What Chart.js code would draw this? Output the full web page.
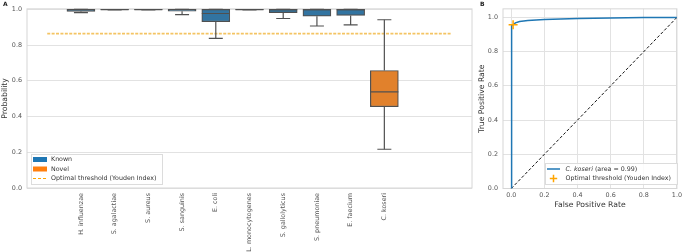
<!DOCTYPE html>
<html>
<head>
<meta charset="utf-8">
<script src="https://cdn.jsdelivr.net/npm/chart.js@4.4.1/dist/chart.umd.min.js"></script>
<style>
  html, body { margin: 0; padding: 0; background: #fff; }
  #wrap { position: relative; width: 685px; height: 252px; overflow: hidden; }
  .panel { position: absolute; top: 0; height: 252px; }
  #pa { left: 0; width: 480px; }
  #pb { left: 440px; width: 245px; }
</style>
</head>
<body>
<div id="wrap">
  <div class="panel" id="pa"><canvas id="chartA"></canvas></div>
  <div class="panel" id="pb"><canvas id="chartB"></canvas></div>
</div>
<script>
// panel A: per-species probability distributions
const species = ["H. influenzae", "S. agalactiae", "S. aureus", "S. sanguinis", "E. coli",
  "L. monocytogenes", "S. gallolyticus", "S. pneumoniae", "E. faecium", "C. koseri"]
const groups = ["Known", "Known", "Known", "Known", "Known", "Known", "Known", "Known", "Known", "Novel"]
const whiskerLo = [0.982, 0.998, 0.998, 0.971, 0.838, 0.998, 0.949, 0.907, 0.913, 0.217]
const q1 = [0.988, 0.998, 0.998, 0.990, 0.931, 0.998, 0.982, 0.962, 0.966, 0.455]
const median = [0.997, 0.9985, 0.9985, 0.998, 0.977, 0.9985, 0.999, 0.998, 0.998, 0.538]
const q3 = [1.0, 0.999, 0.999, 1.0, 1.0, 0.999, 1.0, 1.0, 1.0, 0.658]
const whiskerHi = [1.0, 0.999, 0.999, 1.0, 1.0, 0.999, 1.0, 1.0, 1.0, 0.942]
const threshold = 0.864
const thresholdSpan = [-1, 11]
const probTicks = [0, 0.2, 0.4, 0.6, 0.8, 1.0]

// panel B: ROC curve for C. koseri
const fpr = [0, 0, 0.004, 0.011, 0.025, 0.05, 0.1, 0.2, 0.4, 0.6, 0.8, 1.0]
const tpr = [0, 0.94, 0.952, 0.958, 0.968, 0.976, 0.982, 0.988, 0.994, 0.997, 0.999, 1.0]
const youden = { fpr: 0.011, tpr: 0.957 }
const rateTicks = [0, 0.2, 0.4, 0.6, 0.8, 1.0]

const FONT = "'DejaVu Sans', sans-serif"
Chart.defaults.font.family = FONT
Chart.defaults.color = "#555"
Chart.defaults.animation = false

const KNOWN = "#3274a1"
const NOVEL = "#e1812c"
const EDGE = "#505050"
const GRID = "#e2e2e2"

const frame = {
  id: "frame",
  beforeDatasetsDraw(chart) {
    const { ctx, chartArea: a } = chart
    ctx.save()
    ctx.strokeStyle = "#d6d6d6"
    ctx.lineWidth = 1
    ctx.strokeRect(a.left, a.top, a.right - a.left, a.bottom - a.top)
    ctx.restore()
  }
}

const whiskers = {
  id: "whiskers",
  afterDatasetsDraw(chart) {
    const { ctx, chartArea: a, scales: { x, y } } = chart
    ctx.save()
    ctx.beginPath()
    ctx.rect(a.left, a.top - 1, a.right - a.left, a.bottom - a.top + 1)
    ctx.clip()
    ctx.strokeStyle = EDGE
    ctx.lineWidth = 1.2
    species.forEach((s, i) => {
      const px = x.getPixelForValue(i)
      const seg = (x0, y0, x1, y1) => { ctx.beginPath(); ctx.moveTo(x0, y0); ctx.lineTo(x1, y1); ctx.stroke() }
      seg(px, y.getPixelForValue(q3[i]), px, y.getPixelForValue(whiskerHi[i]))
      seg(px, y.getPixelForValue(q1[i]), px, y.getPixelForValue(whiskerLo[i]))
      seg(px - 7, y.getPixelForValue(whiskerHi[i]), px + 7, y.getPixelForValue(whiskerHi[i]))
      seg(px - 7, y.getPixelForValue(whiskerLo[i]), px + 7, y.getPixelForValue(whiskerLo[i]))
      seg(px - 14, y.getPixelForValue(median[i]), px + 14, y.getPixelForValue(median[i]))
    })
    ctx.restore()
  }
}

const legendA = {
  id: "legendA",
  afterDraw(chart) {
    const { ctx, chartArea: a } = chart
    const x0 = a.left + 4, y0 = 154
    ctx.save()
    ctx.fillStyle = "rgba(255,255,255,0.85)"
    ctx.strokeStyle = "#dcdcdc"
    ctx.lineWidth = 1
    ctx.fillRect(x0, y0, 131, 30)
    ctx.strokeRect(x0 + 0.5, y0 + 0.5, 131, 30)
    ctx.font = "6.3px " + FONT
    ctx.textBaseline = "middle"
    ctx.fillStyle = "#1f77b4"; ctx.fillRect(x0 + 2, y0 + 3, 14, 5)
    ctx.fillStyle = "#ff7f0e"; ctx.fillRect(x0 + 2, y0 + 12.5, 14, 5)
    ctx.strokeStyle = "#ffa500"; ctx.setLineDash([3, 2]); ctx.lineWidth = 1
    ctx.beginPath(); ctx.moveTo(x0 + 2, y0 + 24.5); ctx.lineTo(x0 + 16, y0 + 24.5); ctx.stroke()
    ctx.fillStyle = "#333"
    ctx.fillText("Known", x0 + 20, y0 + 5.5)
    ctx.fillText("Novel", x0 + 20, y0 + 15)
    ctx.fillText("Optimal threshold (Youden Index)", x0 + 20, y0 + 24.5)
    ctx.font = "bold 6px " + FONT
    ctx.fillStyle = "#222"
    ctx.fillText("A", 3, 4)
    ctx.restore()
  }
}

new Chart(document.getElementById("chartA"), {
  type: "bar",
  data: {
    datasets: [
      {
        type: "line",
        data: thresholdSpan.map(v => ({ x: v, y: threshold })),
        borderColor: "#f4c463",
        borderWidth: 1.6,
        borderDash: [3, 1.4],
        pointRadius: 0,
        order: 2
      },
      {
        data: species.map((s, i) => ({ x: i, y: [q1[i], q3[i]] })),
        backgroundColor: groups.map(g => g === "Novel" ? NOVEL : KNOWN),
        borderColor: EDGE,
        borderWidth: 1.2,
        borderSkipped: false,
        barThickness: 28,
        grouped: false,
        order: 1
      }
    ]
  },
  options: {
    responsive: true,
    maintainAspectRatio: false,
    layout: { padding: { left: 0, top: 3, right: 8, bottom: 0 } },
    plugins: { legend: { display: false }, tooltip: { enabled: false } },
    scales: {
      x: {
        type: "linear",
        min: -1.6,
        max: 11.6,
        offset: false,
        grid: { display: false, drawTicks: false },
        border: { display: false },
        afterBuildTicks: scale => { scale.ticks = species.map((s, i) => ({ value: i })) },
        afterFit: scale => { scale.height = 64 },
        ticks: {
          autoSkip: false,
          minRotation: 90,
          maxRotation: 90,
          padding: 5,
          font: { size: 6.4 },
          callback: v => species[v]
        }
      },
      y: {
        min: 0,
        max: 1.003,
        grid: { color: GRID, drawTicks: false },
        border: { display: false },
        afterBuildTicks: scale => { scale.ticks = probTicks.map(v => ({ value: v })) },
        afterFit: scale => { scale.width = 27 },
        title: { display: true, text: "Probability", font: { size: 7.7 }, color: "#333", padding: 0 },
        ticks: { padding: 5, font: { size: 6.4 }, callback: v => v.toFixed(1) }
      }
    }
  },
  plugins: [frame, whiskers, legendA]
})

const legendB = {
  id: "legendB",
  afterDraw(chart) {
    const { ctx } = chart
    const x0 = 105, y0 = 163
    ctx.save()
    ctx.fillStyle = "rgba(255,255,255,0.85)"
    ctx.strokeStyle = "#dcdcdc"
    ctx.lineWidth = 1
    ctx.fillRect(x0, y0, 132, 21)
    ctx.strokeRect(x0 + 0.5, y0 + 0.5, 132, 21)
    ctx.strokeStyle = "#1f77b4"; ctx.lineWidth = 1.5
    ctx.beginPath(); ctx.moveTo(x0 + 2, y0 + 6); ctx.lineTo(x0 + 15, y0 + 6); ctx.stroke()
    ctx.strokeStyle = "#ffa500"; ctx.lineWidth = 1.5
    ctx.beginPath(); ctx.moveTo(x0 + 8.5, y0 + 11.8); ctx.lineTo(x0 + 8.5, y0 + 19.2); ctx.moveTo(x0 + 4.8, y0 + 15.5); ctx.lineTo(x0 + 12.2, y0 + 15.5); ctx.stroke()
    ctx.textBaseline = "middle"
    ctx.fillStyle = "#333"
    ctx.font = "italic 6.3px " + FONT
    ctx.fillText("C. koseri", x0 + 20.5, y0 + 6)
    const w = ctx.measureText("C. koseri").width
    ctx.font = "6.3px " + FONT
    ctx.fillText(" (area = 0.99)", x0 + 20.5 + w, y0 + 6)
    ctx.fillText("Optimal threshold (Youden Index)", x0 + 20.5, y0 + 15.7)
    ctx.font = "bold 6px " + FONT
    ctx.fillStyle = "#222"
    ctx.fillText("B", 40, 4)
    ctx.restore()
  }
}

new Chart(document.getElementById("chartB"), {
  type: "line",
  data: {
    datasets: [
      {
        data: [{ x: youden.fpr, y: youden.tpr }],
        showLine: false,
        pointStyle: "cross",
        pointRadius: 4.5,
        borderColor: "#ffa500",
        borderWidth: 1.5,
        order: 0
      },
      {
        data: fpr.map((f, i) => ({ x: f, y: tpr[i] })),
        borderColor: "#1f77b4",
        borderWidth: 1.5,
        pointRadius: 0,
        tension: 0,
        order: 1
      },
      {
        data: [{ x: 0, y: 0 }, { x: 1, y: 1 }],
        borderColor: "#111",
        borderWidth: 1,
        borderDash: [3, 2],
        pointRadius: 0,
        order: 2
      }
    ]
  },
  options: {
    responsive: true,
    maintainAspectRatio: false,
    layout: { padding: { left: 37, top: 3, right: 5, bottom: 0 } },
    plugins: { legend: { display: false }, tooltip: { enabled: false } },
    scales: {
      x: {
        type: "linear",
        min: -0.05,
        max: 1.0,
        grid: { color: GRID, drawTicks: false },
        border: { display: false },
        afterBuildTicks: scale => { scale.ticks = rateTicks.map(v => ({ value: v })) },
        afterFit: scale => { scale.height = 63.5 },
        title: { display: true, text: "False Positive Rate", font: { size: 7.7 }, color: "#333", padding: { top: 0, bottom: 42 } },
        ticks: { padding: 3, font: { size: 6.4 }, callback: v => v.toFixed(1) }
      },
      y: {
        min: 0,
        max: 1.05,
        grid: { color: GRID, drawTicks: false },
        border: { display: false },
        afterBuildTicks: scale => { scale.ticks = rateTicks.map(v => ({ value: v })) },
        afterFit: scale => { scale.width = 26 },
        title: { display: true, text: "True Positive Rate", font: { size: 7.7 }, color: "#333", padding: 0 },
        ticks: { padding: 5, font: { size: 6.4 }, callback: v => v.toFixed(1) }
      }
    }
  },
  plugins: [frame, legendB]
})
</script>
</body>
</html>
